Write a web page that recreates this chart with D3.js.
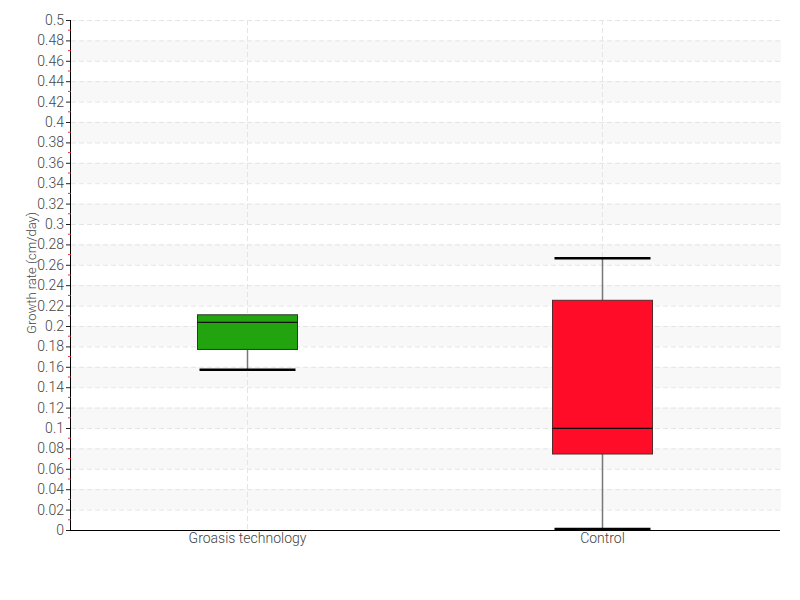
<!DOCTYPE html>
<html><head><meta charset="utf-8">
<script src="https://cdn.jsdelivr.net/npm/d3@7"></script>
<style>body{margin:0;background:#fff}svg{display:block}</style>
</head><body><svg id="c" width="800" height="600"></svg>
<script>
const categories = ["Groasis technology", "Control"];
const whiskerLow = [0.157, 0.001];
const q1 = [0.177, 0.0745];
const median = [0.2035, 0.0997];
const q3 = [0.211, 0.2252];
const whiskerHigh = [0.211, 0.2664];
const fills = ["#21a40e", "#ff0c28"];
const strokes = ["#2a3a2a", "#5a2a2a"];
const yTicks = d3.range(0, 0.5001, 0.02).map(v => +v.toFixed(2));
const yMinor = d3.range(0.01, 0.5, 0.02).map(v => +v.toFixed(2));

const svg = d3.select("#c");
const L = 70, R = 780, T = 20, B = 530;
const x = d3.scaleBand().domain(categories).range([L, R]);
const y = d3.scaleLinear().domain([0, 0.5]).range([B, T]);
const font = "Roboto, 'DejaVu Sans', sans-serif";

// bands
const bandStarts = d3.range(0.02, 0.5, 0.04).map(v => +v.toFixed(2));
svg.append("g").selectAll("rect").data(bandStarts).join("rect")
  .attr("x", L + 1).attr("width", R - L)
  .attr("y", d => y(d + 0.02)).attr("height", d => y(d) - y(d + 0.02))
  .attr("fill", "#f8f8f8");

// horizontal grid
svg.append("g").selectAll("line").data(yTicks.filter(v => v > 0)).join("line")
  .attr("x1", L + 1).attr("x2", R).attr("y1", d => y(d) + 0.5).attr("y2", d => y(d) + 0.5)
  .attr("stroke", "#e4e4e4").attr("stroke-dasharray", "5,3");
// vertical grid
svg.append("g").selectAll("line").data(categories).join("line")
  .attr("x1", d => x(d) + x.bandwidth() / 2).attr("x2", d => x(d) + x.bandwidth() / 2)
  .attr("y1", T).attr("y2", B)
  .attr("stroke", "#e4e4e4").attr("stroke-dasharray", "5,3");

// y axis
const yAxis = svg.append("g").attr("transform", `translate(${L},0)`)
  .call(d3.axisLeft(y).tickValues(yTicks).tickFormat(d => String(d)).tickSize(4).tickPadding(2));
yAxis.select(".domain").attr("stroke", "#000").attr("d", `M0.5,${T}V${B}`);
yAxis.selectAll(".tick line").attr("stroke", "#222");
yAxis.selectAll(".tick text").attr("font-family", font).attr("font-weight", 300).attr("font-size", 14).attr("fill", "#444");
svg.append("g").selectAll("line").data(yMinor).join("line")
  .attr("x1", L - 2).attr("x2", L + 1).attr("y1", d => y(d)).attr("y2", d => y(d))
  .attr("stroke", "#e0303a").attr("stroke-width", 1);

// x axis
const xAxis = svg.append("g").attr("transform", `translate(0,${B})`)
  .call(d3.axisBottom(x).tickSize(0).tickPadding(3));
xAxis.select(".domain").attr("stroke", "#000").attr("d", `M${L},0.5H${R}`);
xAxis.selectAll(".tick text").attr("font-family", font).attr("font-weight", 300).attr("font-size", 14).attr("fill", "#444");

// y label
svg.append("text").attr("transform", `translate(36,${(T + B) / 2 - 2}) rotate(-90)`)
  .attr("text-anchor", "middle").attr("font-family", font).attr("font-weight", 300).attr("font-size", 13).attr("fill", "#444")
  .text("Growth rate (cm/day)");

// boxes
const bw = 100, cw = 96;
categories.forEach((c, i) => {
  const cx = x(c) + x.bandwidth() / 2;
  const g = svg.append("g");
  g.append("line").attr("x1", cx).attr("x2", cx).attr("y1", y(whiskerLow[i])).attr("y2", y(q1[i]))
    .attr("stroke", "#777").attr("stroke-width", 1.5);
  g.append("line").attr("x1", cx).attr("x2", cx).attr("y1", y(whiskerHigh[i])).attr("y2", y(q3[i]))
    .attr("stroke", "#777").attr("stroke-width", 1.5);
  const caps = [whiskerLow[i] < q1[i] ? whiskerLow[i] : null, whiskerHigh[i] > q3[i] ? whiskerHigh[i] : null].filter(v => v !== null);
  caps.forEach(v => {
    g.append("line").attr("x1", cx - cw / 2).attr("x2", cx + cw / 2).attr("y1", y(v)).attr("y2", y(v))
      .attr("stroke", "#000").attr("stroke-width", 2.5);
  });
  g.append("rect").attr("x", cx - bw / 2).attr("width", bw)
    .attr("y", y(q3[i])).attr("height", y(q1[i]) - y(q3[i]))
    .attr("fill", fills[i]).attr("stroke", strokes[i]).attr("stroke-width", 1);
  g.append("line").attr("x1", cx - bw / 2).attr("x2", cx + bw / 2).attr("y1", y(median[i])).attr("y2", y(median[i]))
    .attr("stroke", "#111").attr("stroke-width", 1.2);
});
</script></body></html>
